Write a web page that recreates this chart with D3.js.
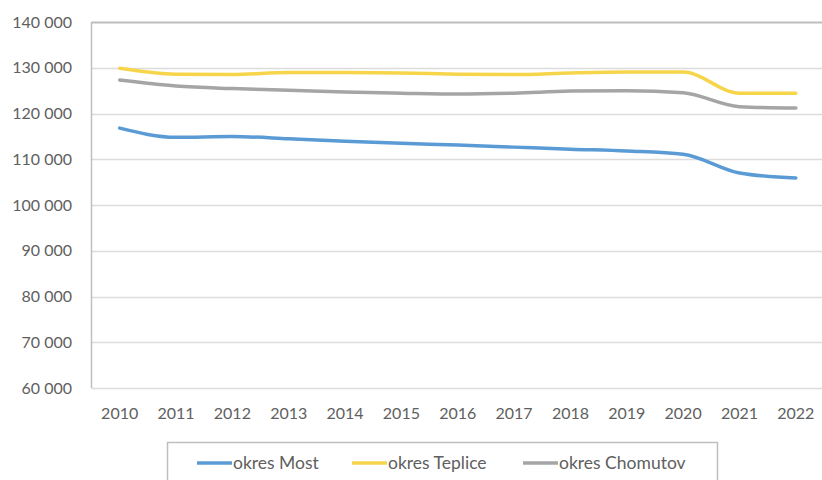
<!DOCTYPE html>
<html>
<head>
<meta charset="utf-8">
<script src="https://cdn.jsdelivr.net/npm/d3@7"></script>
<style>
  body { margin: 0; background: #fff; }
  svg { display: block; font-family: Lato, "Open Sans", sans-serif; }
</style>
</head>
<body>
<svg id="chart" width="822" height="480"></svg>
<script>
// data
const years = [2010, 2011, 2012, 2013, 2014, 2015, 2016, 2017, 2018, 2019, 2020, 2021, 2022];
const most = [116800, 114800, 114950, 114500, 113950, 113500, 113100, 112650, 112200, 111800, 111100, 107000, 105900];
const teplice = [129900, 128600, 128500, 128950, 128950, 128850, 128600, 128500, 128850, 129050, 129050, 124450, 124450];
const chomutov = [127300, 126000, 125450, 125100, 124700, 124450, 124250, 124450, 124900, 125000, 124550, 121500, 121200];
const seriesNames = ["okres Most", "okres Teplice", "okres Chomutov"];
const yTicks = [60000, 70000, 80000, 90000, 100000, 110000, 120000, 130000, 140000];

const colors = ["#5b9bd5", "#f7d54a", "#a5a5a5"];
const series = [most, teplice, chomutov].map((vals, i) => ({
  name: seriesNames[i], color: colors[i], values: vals,
}));

const svg = d3.select("#chart");
const M = { left: 91.5, right: 824, top: 22, bottom: 388 };

const x = d3.scaleBand().domain(years).range([M.left, M.right]);
const y = d3.scaleLinear().domain([60000, 140000]).range([M.bottom, M.top]);
const fmt = (v) => d3.format(",")(v).replace(/,/g, " ");

// ─── Grid ───
svg.append("g")
  .selectAll("line")
  .data(yTicks)
  .join("line")
  .attr("x1", M.left)
  .attr("x2", M.right)
  .attr("y1", (d) => Math.round(y(d)) + 0.5)
  .attr("y2", (d) => Math.round(y(d)) + 0.5)
  .attr("stroke", (d) => (d === 140000 ? "#bdbdbd" : "#dcdcdc"))
  .attr("stroke-width", (d) => (d === 140000 ? 2 : 1.5));

// left axis line
svg.append("line")
  .attr("x1", M.left).attr("x2", M.left)
  .attr("y1", M.top).attr("y2", M.bottom)
  .attr("stroke", "#bfbfbf").attr("stroke-width", 1.5);

// ─── Y labels ───
svg.append("g")
  .selectAll("text")
  .data(yTicks)
  .join("text")
  .attr("x", 72)
  .attr("y", (d) => y(d))
  .attr("dy", "0.35em")
  .attr("text-anchor", "end")
  .attr("fill", "#606060")
  .attr("font-size", "16px")
  .text(fmt);

// ─── X labels ───
svg.append("g")
  .selectAll("text")
  .data(years)
  .join("text")
  .attr("x", (d) => x(d) + x.bandwidth() / 2)
  .attr("y", 413)
  .attr("dy", "0.35em")
  .attr("text-anchor", "middle")
  .attr("fill", "#606060")
  .attr("font-size", "16px")
  .text((d) => d);

// ─── Lines ───
const line = d3.line()
  .x((d, i) => x(years[i]) + x.bandwidth() / 2)
  .y((d) => y(d))
  .curve(d3.curveMonotoneX);

svg.append("g")
  .selectAll("path")
  .data(series)
  .join("path")
  .attr("d", (d) => line(d.values))
  .attr("fill", "none")
  .attr("stroke", (d) => d.color)
  .attr("stroke-width", 3.5)
  .attr("stroke-linecap", "round")
  .attr("stroke-linejoin", "round");

// ─── Legend ───
const legend = svg.append("g");
legend.append("rect")
  .attr("x", 167.5).attr("y", 442.5)
  .attr("width", 550).attr("height", 60)
  .attr("fill", "#fff")
  .attr("stroke", "#bfbfbf")
  .attr("stroke-width", 1.5);

const legendX = [197, 352, 523];
const items = legend.selectAll("g.item")
  .data(series)
  .join("g")
  .attr("class", "item")
  .attr("transform", (d, i) => `translate(${legendX[i]},463)`);

items.append("line")
  .attr("x1", 0).attr("x2", 35)
  .attr("stroke", (d) => d.color)
  .attr("stroke-width", 3.5);

items.append("text")
  .attr("x", 36)
  .attr("dy", "0.35em")
  .attr("fill", "#606060")
  .attr("font-size", "17.5px")
  .text((d) => d.name);
</script>
</body>
</html>
